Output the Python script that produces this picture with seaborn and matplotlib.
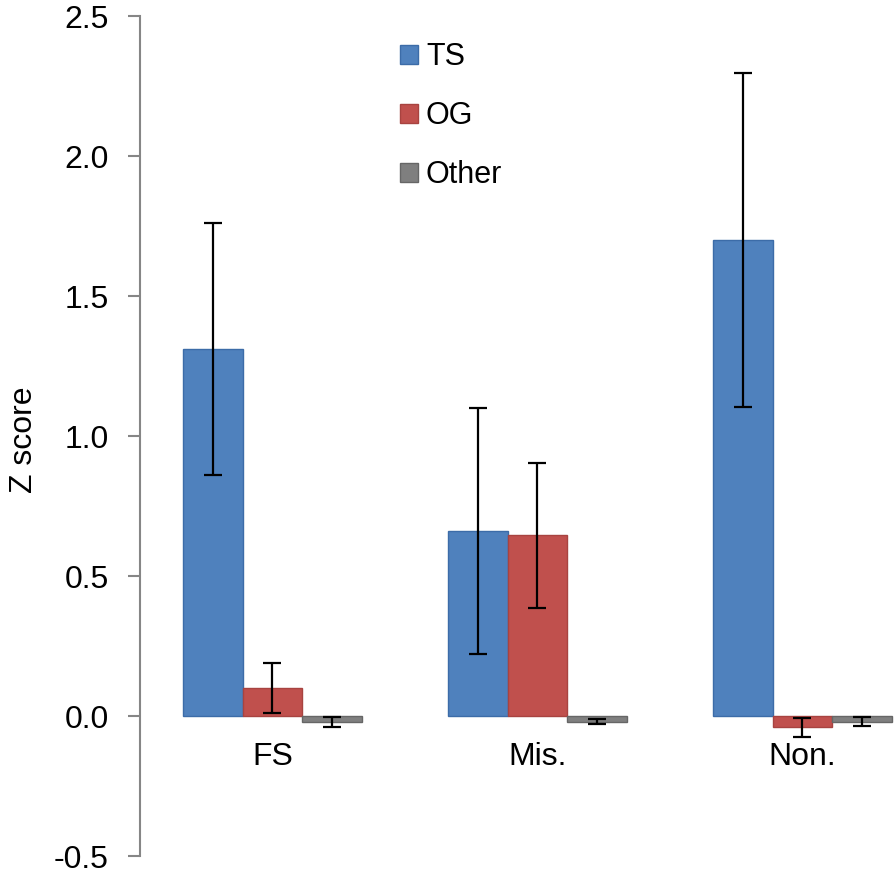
import pandas as pd
import numpy as np
import matplotlib
matplotlib.use("Agg")
import matplotlib.pyplot as plt
import seaborn as sns
from matplotlib.ticker import FormatStrFormatter
from matplotlib.patches import Patch

# data
categories = ["FS", "Mis.", "Non."]
groups = ["TS", "OG", "Other"]
ts_vals = [1.31, 0.66, 1.70]
og_vals = [0.10, 0.645, -0.04]
other_vals = [-0.02, -0.02, -0.02]
ts_err = [0.45, 0.44, 0.595]
og_err = [0.089, 0.26, 0.034]
other_err = [0.018, 0.01, 0.015]

colors = {"TS": "#4F81BD", "OG": "#C0504D", "Other": "#7F7F7F"}
edges = {"TS": "#3C6CA8", "OG": "#A84340", "Other": "#666666"}

rows = []
for name, vals, errs in [("TS", ts_vals, ts_err), ("OG", og_vals, og_err), ("Other", other_vals, other_err)]:
    for c, v, e in zip(categories, vals, errs):
        rows.append({"cat": c, "grp": name, "z": v, "err": e})
df = pd.DataFrame(rows)

sns.set_style("white")
plt.rcParams["font.family"] = ["Liberation Sans", "DejaVu Sans"]
plt.rcParams["text.color"] = "black"
plt.rcParams["axes.labelcolor"] = "black"

fig = plt.figure(figsize=(8.96, 8.72), dpi=100)
ax = fig.add_axes([140 / 896, 1 - 856 / 872, 1 - 140 / 896, 840 / 872])

sns.barplot(data=df, x="cat", y="z", hue="grp", order=categories, hue_order=groups,
            palette=colors, width=0.676, errorbar=None, ax=ax, legend=False, saturation=1)

# error bars at the bar centres
for bars, name in zip(ax.containers, groups):
    sub = df[df["grp"] == name].set_index("cat").loc[categories]
    for p in bars:
        p.set_edgecolor(edges[name])
        p.set_linewidth(1.0)
    xs = [p.get_x() + p.get_width() / 2 for p in bars]
    ys = sub["z"].values
    ax.errorbar(xs, ys, yerr=sub["err"].values, fmt="none", ecolor="black",
                elinewidth=1.6, capsize=6.5, capthick=1.6, zorder=5)

ax.set_ylim(-0.5, 2.5)
ax.set_xlim(-0.5, 2.353)
ax.set_yticks(np.arange(-0.5, 2.51, 0.5))
ax.yaxis.set_major_formatter(FormatStrFormatter("%.1f"))

for s in ["top", "right"]:
    ax.spines[s].set_visible(False)
ax.spines["bottom"].set_position(("data", 0))
ax.spines["bottom"].set_visible(False)
ax.spines["left"].set_color("#868686")
ax.spines["left"].set_linewidth(1.5)

ax.tick_params(axis="y", left=True, length=8.5, width=1.5, color="#868686",
               labelsize=23, pad=14, labelcolor="black")
ax.tick_params(axis="x", bottom=False, length=0, labelsize=23, pad=19, labelcolor="black")
ax.set_xlabel("")
ax.set_ylabel("Z score", fontsize=23)
ax.yaxis.set_label_coords(-0.134, 0.495)

handles = [Patch(facecolor=colors[g], edgecolor=edges[g]) for g in groups]
ax.legend(handles, groups, loc="upper left", bbox_to_anchor=(400 / 896, 1 - 42 / 872),
          bbox_transform=fig.transFigure, frameon=False, fontsize=22,
          handlelength=0.6, handleheight=0.6, handletextpad=0.25, labelspacing=0.95,
          borderpad=0, borderaxespad=0)

fig.savefig("out.png", dpi=100)
